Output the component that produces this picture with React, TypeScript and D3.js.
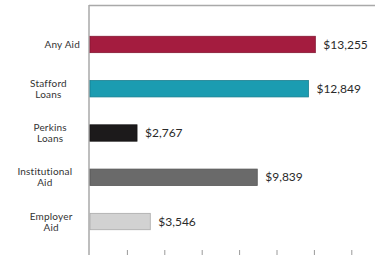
import React, { useRef, useEffect } from 'react';
import * as d3 from 'd3';

const categories = [["Any Aid"], ["Stafford", "Loans"], ["Perkins", "Loans"], ["Institutional", "Aid"], ["Employer", "Aid"]];
const values = [13255, 12849, 2767, 9839, 3546];
const valueLabels = ["$13,255", "$12,849", "$2,767", "$9,839", "$3,546"];
const barColors = ["#a41c3f", "#1b9cb1", "#1c1a1b", "#6a6a6a", "#d2d2d2"];
const tickValues = [2200, 4400, 6600, 8800, 11000, 13200, 15400];

export default function App() {
  const ref = useRef<SVGSVGElement>(null);

  useEffect(() => {
    const svg = d3.select(ref.current);
    svg.selectAll("*").remove();

    const width = 375;
    const height = 255;
    const left = 90;
    const labelRight = 80;

    const x = d3.scaleLinear().domain([0, 1000]).range([left, left + 17]);
    const y = d3.scaleBand<number>()
      .domain(d3.range(values.length))
      .range([23, 243])
      .paddingInner(0.63)
      .paddingOuter(0.3);

    svg.append("rect").attr("width", width).attr("height", height).attr("fill", "#fff");

    // frame
    svg.append("line")
      .attr("x1", left - 1).attr("x2", width)
      .attr("y1", 5.5).attr("y2", 5.5)
      .attr("stroke", "#a9a9a9").attr("stroke-width", 1.5);
    svg.append("line")
      .attr("x1", left - 1).attr("x2", left - 1)
      .attr("y1", 5).attr("y2", height)
      .attr("stroke", "#a9a9a9").attr("stroke-width", 1.5);

    // bars
    svg.selectAll("rect.bar")
      .data(values)
      .enter()
      .append("rect")
      .attr("class", "bar")
      .attr("x", x(0))
      .attr("y", (d, i) => y(i)!)
      .attr("width", d => x(d) - x(0))
      .attr("height", y.bandwidth())
      .attr("fill", (d, i) => barColors[i])
      .attr("stroke", (d, i) => d3.color(barColors[i])!.darker(0.6).toString())
      .attr("stroke-width", 0.8);

    // value labels
    svg.selectAll("text.val")
      .data(values)
      .enter()
      .append("text")
      .attr("class", "val")
      .attr("x", d => x(d) + 8)
      .attr("y", (d, i) => y(i)! + y.bandwidth() / 2)
      .attr("dy", "0.35em")
      .attr("font-family", "'Century Gothic', Lato, 'DejaVu Sans', sans-serif")
      .attr("font-size", 12)
      .attr("fill", "#2a2a2a")
      .text((d, i) => valueLabels[i]);

    // category labels, lines centred on each other, right edge at labelRight
    categories.forEach((lines, i) => {
      const cy = y(i)! + y.bandwidth() / 2;
      const t = svg.append("text")
        .attr("y", cy - (lines.length - 1) * 5.5)
        .attr("text-anchor", "middle")
        .attr("font-family", "'Century Gothic', Lato, 'DejaVu Sans', sans-serif")
        .attr("font-size", 10)
        .attr("letter-spacing", 0.2)
        .attr("fill", "#333");
      lines.forEach((line, j) => {
        t.append("tspan")
          .attr("dy", j === 0 ? "0.35em" : 11)
          .text(line);
      });
      const w = (t.node() as SVGTextElement).getBBox().width;
      t.selectAll("tspan").attr("x", labelRight - w / 2);
    });

    // bottom ticks
    svg.selectAll("line.tick")
      .data(tickValues)
      .enter()
      .append("line")
      .attr("class", "tick")
      .attr("x1", d => x(d)).attr("x2", d => x(d))
      .attr("y1", 250).attr("y2", 255)
      .attr("stroke", "#9a9a9a").attr("stroke-width", 1);
  }, []);

  return (
    <svg ref={ref} width={375} height={255}
      style={{ position: "absolute", left: 0, top: 0, display: "block" }} />
  );
}
